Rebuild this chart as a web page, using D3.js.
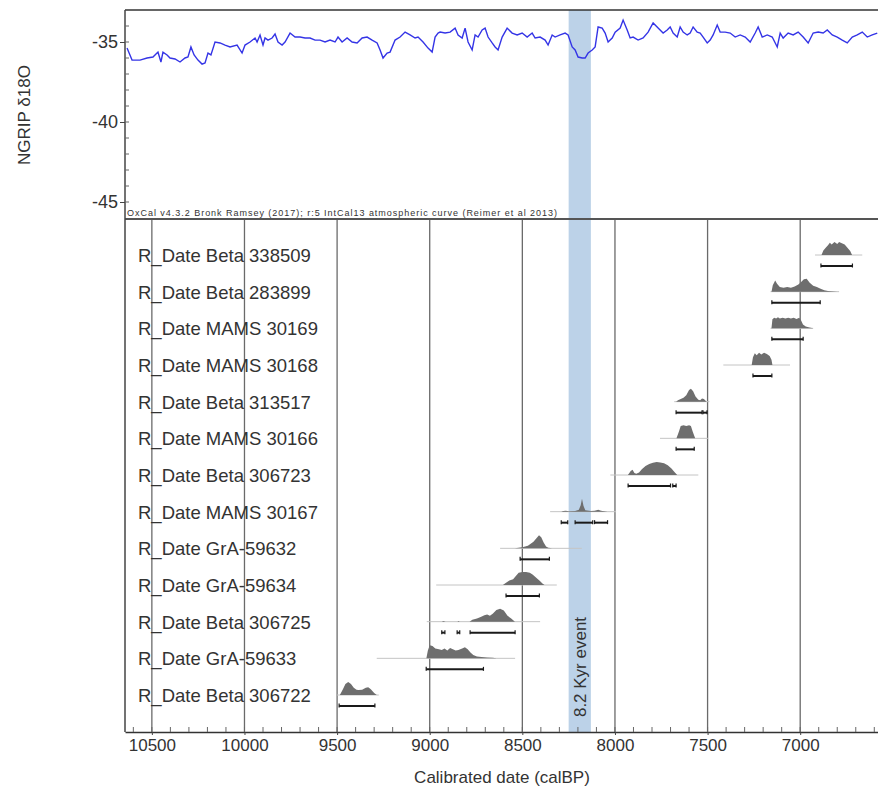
<!DOCTYPE html>
<html>
<head>
<meta charset="utf-8">
<script src="https://cdn.jsdelivr.net/npm/d3@7"></script>
<style>
  body { margin: 0; background: #fff; }
  text { font-family: "Liberation Sans", Arial, sans-serif; fill: #333; }
</style>
</head>
<body>
<div id="vis"></div>
<script>
// NGRIP d18O record (age calBP, permil)
const ngripAge = [10634,10607,10564,10526,10494,10467,10451,10440,10418,10402,10375,10348,10321,10305,10289,10272,10251,10229,10213,10197,10181,10159,10132,10105,10078,10040,10013,9997,9970,9943,9932,9916,9900,9889,9873,9851,9835,9819,9797,9781,9754,9727,9700,9673,9646,9619,9592,9565,9538,9511,9495,9473,9446,9419,9392,9365,9338,9311,9284,9268,9252,9230,9214,9187,9160,9133,9106,9079,9063,9036,9009,8987,8971,8955,8944,8917,8890,8863,8847,8825,8809,8793,8771,8755,8739,8717,8701,8685,8663,8647,8631,8609,8582,8555,8528,8501,8474,8447,8431,8404,8377,8361,8339,8323,8296,8269,8253,8231,8215,8199,8177,8161,8145,8123,8107,8091,8069,8053,8037,8015,7999,7972,7956,7934,7918,7902,7875,7848,7821,7794,7767,7740,7718,7702,7686,7664,7648,7632,7610,7594,7578,7556,7540,7524,7502,7486,7470,7448,7432,7405,7378,7351,7324,7297,7270,7243,7227,7205,7178,7151,7124,7108,7092,7065,7038,7011,6984,6957,6930,6903,6876,6854,6827,6800,6773,6746,6719,6692,6665,6638,6611,6584];
const ngripD18O = [-35.38,-36.13,-36.13,-36.0,-35.94,-35.63,-36.25,-35.63,-35.81,-36.0,-36.06,-36.25,-36.0,-35.94,-35.31,-35.81,-36.13,-36.38,-36.31,-35.69,-35.81,-35.0,-35.06,-35.19,-35.31,-35.19,-35.69,-35.19,-35.0,-34.75,-35.0,-34.56,-35.19,-34.75,-34.88,-34.75,-34.5,-35.0,-35.19,-35.0,-34.44,-34.69,-34.69,-34.75,-34.75,-34.88,-34.88,-35.0,-34.88,-35.0,-34.69,-35.0,-34.75,-35.0,-35.06,-34.75,-34.69,-34.88,-35.06,-35.5,-36.0,-35.69,-35.63,-34.88,-34.69,-34.38,-34.56,-34.75,-34.69,-35.0,-35.38,-35.63,-34.69,-34.44,-34.38,-34.44,-34.38,-34.13,-34.56,-34.75,-34.13,-35.0,-35.5,-34.56,-34.69,-34.25,-34.13,-34.69,-35.06,-35.31,-35.5,-34.69,-34.13,-34.44,-34.56,-34.44,-34.69,-34.44,-34.75,-34.69,-34.88,-35.19,-34.56,-34.69,-34.56,-34.44,-34.56,-35.31,-35.5,-35.94,-36.0,-36.0,-35.69,-35.5,-35.31,-34.06,-34.13,-34.44,-35.0,-34.75,-34.38,-34.13,-33.63,-34.25,-34.75,-34.69,-34.88,-34.75,-34.38,-33.81,-34.13,-34.44,-34.25,-34.06,-34.44,-34.69,-34.06,-34.38,-34.56,-34.44,-34.06,-34.38,-34.44,-34.69,-35.06,-34.88,-34.56,-33.94,-34.38,-34.38,-34.44,-34.69,-34.56,-34.69,-35.0,-34.44,-34.06,-34.69,-34.56,-34.69,-35.31,-34.44,-34.75,-34.44,-34.56,-34.38,-34.69,-35.06,-34.44,-34.38,-34.44,-34.25,-34.56,-34.69,-34.88,-35.06,-34.69,-34.56,-34.38,-34.69,-34.56,-34.44];

// radiocarbon dates, top to bottom
const labels = ["R_Date Beta 338509","R_Date Beta 283899","R_Date MAMS 30169","R_Date MAMS 30168",
  "R_Date Beta 313517","R_Date MAMS 30166","R_Date Beta 306723","R_Date MAMS 30167",
  "R_Date GrA-59632","R_Date GrA-59634","R_Date Beta 306725","R_Date GrA-59633","R_Date Beta 306722"];

// posterior probability shapes: [age calBP, relative density]
const posteriors = [
  [[6885,0],[6875,0.35],[6860,0.6],[6850,0.75],[6840,0.95],[6830,0.8],[6815,1.0],[6800,0.85],[6790,1.0],[6775,0.9],[6760,0.8],[6745,0.55],[6730,0.3],[6720,0]],
  [[7155,0],[7148,0.5],[7135,0.85],[7125,0.6],[7110,0.35],[7090,0.3],[7070,0.35],[7050,0.3],[7030,0.4],[7010,0.55],[6995,0.75],[6980,0.95],[6965,1.0],[6950,0.7],[6930,0.45],[6910,0.35],[6893,0.25],[6870,0.1],[6850,0.05],[6800,0]],
  [[7155,0],[7150,0.7],[7140,0.82],[7130,0.75],[7120,0.85],[7110,0.75],[7095,0.82],[7080,0.75],[7065,0.82],[7050,0.75],[7035,0.82],[7020,0.72],[7005,0.82],[6995,0.6],[6985,0.3],[6970,0.15],[6950,0.06],[6930,0]],
  [[7262,0],[7255,0.6],[7245,0.9],[7235,0.75],[7222,0.95],[7210,0.8],[7195,0.95],[7180,0.85],[7165,0.7],[7155,0.4],[7150,0]],
  [[7670,0],[7660,0.1],[7645,0.2],[7630,0.3],[7615,0.5],[7600,0.9],[7590,1.0],[7578,0.8],[7565,0.4],[7550,0.15],[7540,0.1],[7530,0.25],[7520,0.2],[7505,0]],
  [[7668,0],[7655,0.5],[7645,0.95],[7630,1.0],[7615,0.95],[7600,1.0],[7590,0.95],[7580,0.5],[7567,0]],
  [[7930,0],[7915,0.3],[7905,0.4],[7895,0.15],[7885,0.1],[7870,0.2],[7855,0.45],[7835,0.7],[7815,0.85],[7795,0.95],[7775,1.0],[7755,0.97],[7735,0.9],[7715,0.75],[7695,0.5],[7680,0.25],[7664,0]],
  [[8290,0],[8280,0.06],[8265,0.08],[8250,0.03],[8215,0.05],[8195,0.15],[8185,0.5],[8178,1.0],[8170,0.45],[8160,0.1],[8130,0.05],[8110,0.08],[8090,0.15],[8075,0.08],[8040,0]],
  [[8540,0],[8520,0.05],[8495,0.1],[8470,0.2],[8455,0.35],[8440,0.5],[8425,0.75],[8410,1.0],[8398,0.85],[8385,0.45],[8372,0.15],[8360,0.05],[8340,0]],
  [[8605,0],[8590,0.15],[8570,0.35],[8550,0.45],[8535,0.7],[8520,0.95],[8500,1.0],[8480,1.0],[8460,0.95],[8445,0.8],[8425,0.55],[8405,0.3],[8390,0.1],[8380,0]],
  [[8935,0],[8926,0.06],[8915,0],[8850,0],[8845,0.06],[8838,0],[8785,0],[8770,0.15],[8745,0.25],[8725,0.35],[8705,0.5],[8690,0.55],[8675,0.45],[8660,0.6],[8640,0.9],[8620,1.0],[8600,0.85],[8580,0.45],[8560,0.25],[8540,0]],
  [[9018,0],[9010,0.6],[9000,1.0],[8985,0.95],[8970,0.75],[8950,0.7],[8935,0.65],[8920,0.75],[8905,0.6],[8890,0.8],[8875,0.7],[8860,0.6],[8845,0.65],[8825,0.75],[8810,0.85],[8795,0.7],[8780,0.45],[8765,0.25],[8745,0.15],[8720,0.1],[8690,0.07],[8660,0.05],[8638,0]],
  [[9485,0],[9470,0.4],[9455,0.85],[9440,1.0],[9425,0.85],[9410,0.55],[9395,0.4],[9385,0.38],[9365,0.4],[9345,0.55],[9332,0.6],[9318,0.45],[9300,0.15],[9286,0]]
];

// extent of the unmodelled (prior) distributions
const priorRanges = [[6920,6665],[7160,6790],[7160,6930],[7415,7055],[7680,7490],[7757,7498],[8025,7550],
  [8350,7994],[8620,8179],[8965,8314],[9016,8404],[9286,8539],[9500,9275]];

// highest posterior density ranges
const hpdRanges = [
  [[6888,6718]],
  [[7153,6892]],
  [[7153,6984]],
  [[7255,7153]],
  [[7670,7530],[7525,7503]],
  [[7670,7572]],
  [[7929,7700],[7688,7670]],
  [[8290,8255],[8215,8120],[8110,8040]],
  [[8512,8354]],
  [[8588,8408]],
  [[8935,8918],[8852,8838],[8782,8539]],
  [[9019,8710]],
  [[9489,9296]]
];

const eventRange = [8250, 8130];
const xTicks = [10500, 10000, 9500, 9000, 8500, 8000, 7500, 7000];
const yTicks = [-35, -40, -45];

const width = 878, height = 799;
const plotLeft = 125, plotRight = 878, plotTop = 10, plotSplit = 219, plotBottom = 732;
const fontStack = '"Liberation Sans", Arial, sans-serif';

const svg = d3.select("#vis").append("svg")
    .attr("width", width)
    .attr("height", height);

const x = d3.scaleLinear().domain([10645, 6580]).range([plotLeft, plotRight]);
const y = d3.scaleLinear().domain([-46, -33]).range([plotSplit - 1, plotTop]);
const row = d3.scalePoint().domain(labels).range([255, 695]);
const dens = d3.scaleLinear().domain([0, 1]).range([0, 13]);

// 8.2 kyr event band
svg.append("rect")
    .attr("x", x(eventRange[0]))
    .attr("width", x(eventRange[1]) - x(eventRange[0]))
    .attr("y", plotTop)
    .attr("height", plotBottom - plotTop)
    .attr("fill", "#bcd2e8");

// vertical grid in the lower panel
svg.append("g").selectAll("line")
    .data(xTicks)
    .join("line")
    .attr("x1", d => x(d)).attr("x2", d => x(d))
    .attr("y1", plotSplit).attr("y2", plotBottom)
    .attr("stroke", "#6a6a6a")
    .attr("stroke-width", 1.3);

// priors drawn as faint baseline
svg.append("g").selectAll("line")
    .data(labels)
    .join("line")
    .attr("x1", (d, i) => x(priorRanges[i][0]))
    .attr("x2", (d, i) => x(priorRanges[i][1]))
    .attr("y1", d => row(d)).attr("y2", d => row(d))
    .attr("stroke", "#c4c4c4")
    .attr("stroke-width", 1);

// posterior distributions
labels.forEach((lab, i) => {
    const y0 = row(lab);
    const area = d3.area()
        .x(d => x(d[0]))
        .y0(y0)
        .y1(d => y0 - dens(d[1]));
    svg.append("path")
        .attr("d", area(posteriors[i]))
        .attr("fill", "#6e6e6e");

    // hpd ranges
    const yb = y0 + 11;
    const g = svg.append("g").attr("stroke", "#1a1a1a");
    hpdRanges[i].forEach(r => {
        g.append("line")
            .attr("x1", x(r[0])).attr("x2", x(r[1]))
            .attr("y1", yb).attr("y2", yb)
            .attr("stroke-width", 2);
        g.selectAll(null).data(r).enter().append("line")
            .attr("x1", d => x(d)).attr("x2", d => x(d))
            .attr("y1", yb - 2.5).attr("y2", yb + 1.5)
            .attr("stroke-width", 1.2);
    });
});

// date labels
svg.append("g").selectAll("text")
    .data(labels)
    .join("text")
    .attr("x", 138)
    .attr("y", d => row(d) + 7)
    .attr("font-size", "18.5px")
    .text(d => d);

// event label
svg.append("text")
    .attr("transform", `translate(${x(8190) + 6},667) rotate(-90)`)
    .attr("text-anchor", "middle")
    .attr("font-size", "17px")
    .text("8.2 Kyr event");

// NGRIP curve
const ngrip = ngripAge.map((a, i) => [a, ngripD18O[i]]);
svg.append("path")
    .attr("d", d3.line().x(d => x(d[0])).y(d => y(d[1]))(ngrip))
    .attr("fill", "none")
    .attr("stroke", "#3434e6")
    .attr("stroke-width", 1.4);

// frames
svg.append("line").attr("x1", plotLeft).attr("x2", plotRight).attr("y1", plotTop).attr("y2", plotTop)
    .attr("stroke", "#333").attr("stroke-width", 1.5);
svg.append("line").attr("x1", plotLeft).attr("x2", plotRight).attr("y1", plotSplit).attr("y2", plotSplit)
    .attr("stroke", "#555").attr("stroke-width", 2);
svg.append("line").attr("x1", plotLeft).attr("x2", plotLeft).attr("y1", plotTop).attr("y2", plotBottom)
    .attr("stroke", "#444").attr("stroke-width", 1.5);

svg.append("text")
    .attr("x", 127).attr("y", plotSplit - 3)
    .attr("font-size", "9px")
    .attr("textLength", 430)
    .text("OxCal v4.3.2 Bronk Ramsey (2017); r:5 IntCal13 atmospheric curve (Reimer et al 2013)");

// y axis (top panel)
const yAxis = svg.append("g")
    .attr("transform", `translate(${plotLeft},0)`)
    .call(d3.axisLeft(y).tickValues(yTicks).tickFormat(d => String(d)).tickSize(5).tickSizeOuter(0).tickPadding(2));
yAxis.select(".domain").remove();
yAxis.selectAll("text").attr("font-size", "18px").attr("fill", "#333")
    .style("font-family", fontStack);
yAxis.selectAll("line").attr("stroke", "#444");
svg.append("g").selectAll("line")
    .data(d3.range(-45, -33, 1))
    .join("line")
    .attr("x1", plotLeft).attr("x2", plotLeft + 4)
    .attr("y1", d => y(d)).attr("y2", d => y(d))
    .attr("stroke", "#666");

// x axis
const xAxis = svg.append("g")
    .attr("transform", `translate(0,${plotBottom})`)
    .call(d3.axisBottom(x).tickValues(xTicks).tickFormat(d3.format("d")).tickSize(3).tickSizeOuter(0).tickPadding(4));
xAxis.select(".domain").attr("stroke", "#333").attr("stroke-width", 1.5);
xAxis.selectAll("line").attr("stroke", "#444");
xAxis.selectAll("text").attr("font-size", "17px").attr("fill", "#333")
    .style("font-family", fontStack);
svg.append("g").selectAll("line")
    .data(d3.range(10600, 6580, -100))
    .join("line")
    .attr("x1", d => x(d)).attr("x2", d => x(d))
    .attr("y1", plotBottom).attr("y2", plotBottom - 5)
    .attr("stroke", "#666");

// axis titles
svg.append("text")
    .attr("x", 502).attr("y", 783)
    .attr("text-anchor", "middle")
    .attr("font-size", "17px")
    .text("Calibrated date (calBP)");

svg.append("text")
    .attr("transform", "translate(30,115) rotate(-90)")
    .attr("text-anchor", "middle")
    .attr("font-size", "17px")
    .text("NGRIP δ18O");
</script>
</body>
</html>
